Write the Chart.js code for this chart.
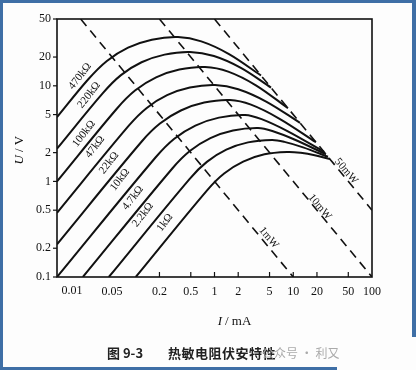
<!DOCTYPE html>
<html>
<head>
<meta charset="utf-8">
<script src="https://cdn.jsdelivr.net/npm/chart.js@4/dist/chart.umd.min.js"></script>
<style>
    body { margin: 0; background: #fff; }
    #wrap { position: relative; width: 416px; height: 370px; overflow: hidden; background: #fdfdfd; }
    #chart { position: absolute; left: 0; top: 0; }
    .edge { position: absolute; background: #3f6fa6; }
    .caption { position: absolute; top: 343px; font-family: "Noto Sans CJK SC", sans-serif; font-size: 13px; color: #222; white-space: nowrap; }
</style>
</head>
<body>
<div id="wrap">
    <canvas id="chart" width="416" height="370"></canvas>
    <div class="caption" style="left: 107px; font-weight: bold;">图 9-3</div>
    <div class="caption" style="left: 168px; font-weight: bold; letter-spacing: 0.5px;">热敏电阻伏安特性</div>
    <div class="caption" style="left: 262px; color: #aaa; font-size: 12px; top: 344px;">公众号 · 利又</div>
    <div class="edge" style="left:0; top:0; width:416px; height:3px;"></div>
    <div class="edge" style="left:0; top:0; width:3px; height:370px;"></div>
    <div class="edge" style="left:412px; top:0; width:4px; height:337px;"></div>
    <div class="edge" style="left:0; top:367px; width:337px; height:3px;"></div>
</div>
<script>
// axis ticks as printed
var xTicks = [0.01, 0.05, 0.2, 0.5, 1, 2, 5, 10, 20, 50, 100];
var yTicks = [0.1, 0.2, 0.5, 1, 2, 5, 10, 20, 50];

// thermistor curves, [I (mA), U (V)]
var r470k = [[0.01, 4.7], [0.0248, 11.64], [0.043, 18.2], [0.0799, 25.1], [0.16, 30.4], [0.344, 32.4], [0.68, 29.2], [1.528, 21.5], [3.895, 12.82]];
var r220k = [[0.01, 2.2], [0.0382, 8.39], [0.0649, 12.94], [0.1185, 17.63], [0.2323, 21.2], [0.4886, 22.6], [0.983, 20.5], [2.164, 15.4], [5.218, 9.58]];
var r100k = [[0.01, 1], [0.0578, 5.79], [0.0988, 8.97], [0.1813, 12.25], [0.3576, 14.78], [0.7575, 15.73], [1.493, 14.09], [3.355, 10.13], [8.577, 5.83]];
var r47k = [[0.01, 0.47], [0.0816, 3.83], [0.138, 5.87], [0.25, 7.98], [0.4864, 9.59], [1.015, 10.2], [2.0, 9.22], [4.587, 6.81], [12.18, 4.1]];
var r22k = [[0.01, 0.22], [0.1183, 2.6], [0.2028, 4.03], [0.3737, 5.52], [0.7396, 6.68], [1.573, 7.11], [2.907, 6.35], [6.708, 4.52], [19.45, 2.57]];
var r10k = [[0.01, 0.1], [0.1792, 1.79], [0.3087, 2.8], [0.5718, 3.84], [1.139, 4.65], [2.44, 4.95], [3.963, 4.48], [8.551, 3.34], [24.57, 2.04]];
var r4k7 = [[0.0213, 0.1], [0.2912, 1.365], [0.4907, 2.09], [0.8867, 2.84], [1.718, 3.41], [3.568, 3.62], [5.42, 3.37], [10.52, 2.73], [26.05, 1.92]];
var r2k2 = [[0.0455, 0.1], [0.4843, 1.065], [0.7995, 1.6], [1.412, 2.15], [2.664, 2.56], [5.373, 2.71], [7.72, 2.59], [13.34, 2.27], [27.62, 1.81]];
var r1k = [[0.1, 0.1], [0.81, 0.811], [1.325, 1.21], [2.313, 1.61], [4.311, 1.92], [8.577, 2.03], [12.43, 1.99], [18.73, 1.88], [29.29, 1.71]];

// constant power lines (dashed)
var line1mW = [[0.02, 50], [10, 0.1]];
var line10mW = [[0.2, 50], [100, 0.1]];
var line50mW = [[1, 50], [100, 0.5]];

var curves = [r470k, r220k, r100k, r47k, r22k, r10k, r4k7, r2k2, r1k];
var curveNames = ['470kΩ', '220kΩ', '100kΩ', '47kΩ', '22kΩ', '10kΩ', '4.7kΩ', '2.2kΩ', '1kΩ'];
var powerLines = [line1mW, line10mW, line50mW];
var powerNames = ['1mW', '10mW', '50mW'];

// where the printed labels sit, in (I, U)
var curveNameSpots = [[0.0196, 12.6], [0.0255, 8.0], [0.022, 3.15], [0.0304, 2.29], [0.0458, 1.56], [0.063, 1.04], [0.092, 0.67], [0.123, 0.446], [0.235, 0.37]];
var powerNameSpots = [[4.9, 0.257], [21.7, 0.54], [47, 1.28]];

var toPoints = function (list) {
    return list.map(function (p) {
        return {x: p[0], y: p[1]};
    });
};

var datasets = [];
curves.forEach(function (c, i) {
    datasets.push({
        label: curveNames[i],
        data: toPoints(c),
        borderColor: '#111',
        borderWidth: 2,
        pointRadius: 0,
        tension: 0.35,
        fill: false
    });
});
powerLines.forEach(function (l, i) {
    datasets.push({
        label: powerNames[i],
        data: toPoints(l),
        borderColor: '#111',
        borderWidth: 1.6,
        borderDash: [9, 6],
        pointRadius: 0,
        fill: false
    });
});

var serif = '"Liberation Serif", "DejaVu Serif", serif';

var drawText = function (ctx, text, x, y, angle, font) {
    ctx.save();
    ctx.translate(x, y);
    ctx.rotate(angle * Math.PI / 180);
    ctx.font = font;
    ctx.fillStyle = '#111';
    ctx.textAlign = 'center';
    ctx.textBaseline = 'middle';
    ctx.fillText(text, 0, 0);
    ctx.restore();
};

var figurePlugin = {
    id: 'figure',
    afterDraw: function (chart) {
        var ctx = chart.ctx;
        var a = chart.chartArea;
        var xs = chart.scales.x;
        var ys = chart.scales.y;

        // frame
        ctx.save();
        ctx.strokeStyle = '#111';
        ctx.lineWidth = 1.6;
        ctx.strokeRect(a.left, a.top, a.right - a.left, a.bottom - a.top);

        // small tick marks: x inward, y outward
        ctx.lineWidth = 1.2;
        xTicks.forEach(function (v) {
            if (v <= 0.05 || v >= 100) return;
            var px = xs.getPixelForValue(v);
            ctx.beginPath();
            ctx.moveTo(px, a.bottom);
            ctx.lineTo(px, a.bottom - 5);
            ctx.stroke();
        });
        yTicks.forEach(function (v) {
            var py = ys.getPixelForValue(v);
            ctx.beginPath();
            ctx.moveTo(a.left, py);
            ctx.lineTo(a.left - 4, py);
            ctx.stroke();
        });
        ctx.restore();

        // first x label sits right of the corner
        drawText(ctx, '0.01', xs.getPixelForValue(0.01) + 15, a.bottom + 14, 0, '12px ' + serif);

        curveNames.forEach(function (name, i) {
            var s = curveNameSpots[i];
            drawText(ctx, name, xs.getPixelForValue(s[0]), ys.getPixelForValue(s[1]), -52, '11px ' + serif);
        });
        powerNames.forEach(function (name, i) {
            var s = powerNameSpots[i];
            drawText(ctx, name, xs.getPixelForValue(s[0]), ys.getPixelForValue(s[1]), 50, '11px ' + serif);
        });

        // axis titles
        ctx.save();
        ctx.translate(20, 152);
        ctx.rotate(-Math.PI / 2);
        ctx.fillStyle = '#111';
        ctx.textBaseline = 'middle';
        ctx.font = 'italic 13px ' + serif;
        ctx.textAlign = 'right';
        ctx.fillText('U', -3, 0);
        ctx.font = '13px ' + serif;
        ctx.textAlign = 'left';
        ctx.fillText('/ V', 0, 0);
        ctx.restore();

        ctx.save();
        ctx.fillStyle = '#111';
        ctx.textBaseline = 'middle';
        ctx.font = 'italic 13px ' + serif;
        ctx.textAlign = 'right';
        ctx.fillText('I', 222, 322);
        ctx.font = '13px ' + serif;
        ctx.textAlign = 'left';
        ctx.fillText('/ mA', 225, 322);
        ctx.restore();
    }
};

new Chart(document.getElementById('chart').getContext('2d'), {
    type: 'line',
    data: {datasets: datasets},
    options: {
        responsive: false,
        animation: false,
        parsing: false,
        layout: {padding: {top: 19, right: 44, left: 0, bottom: 0}},
        plugins: {legend: {display: false}, tooltip: {enabled: false}},
        scales: {
            x: {
                type: 'logarithmic',
                min: 0.01,
                max: 100,
                grid: {display: false, drawTicks: false, tickLength: 0},
                border: {display: false},
                afterBuildTicks: function (scale) {
                    scale.ticks = xTicks.map(function (v) { return {value: v}; });
                },
                afterFit: function (scale) {
                    scale.height = 93;
                },
                ticks: {
                    autoSkip: false,
                    maxRotation: 0,
                    padding: 8,
                    color: '#111',
                    font: {family: serif, size: 12},
                    callback: function (v) {
                        return v === 0.01 ? '' : String(v);
                    }
                }
            },
            y: {
                type: 'logarithmic',
                min: 0.1,
                max: 50,
                grid: {display: false, drawTicks: false, tickLength: 0},
                border: {display: false},
                afterBuildTicks: function (scale) {
                    scale.ticks = yTicks.map(function (v) { return {value: v}; });
                },
                afterFit: function (scale) {
                    scale.width = 57;
                },
                ticks: {
                    autoSkip: false,
                    padding: 6,
                    color: '#111',
                    font: {family: serif, size: 12},
                    callback: function (v) {
                        return String(v);
                    }
                }
            }
        }
    },
    plugins: [figurePlugin]
});
</script>
</body>
</html>
